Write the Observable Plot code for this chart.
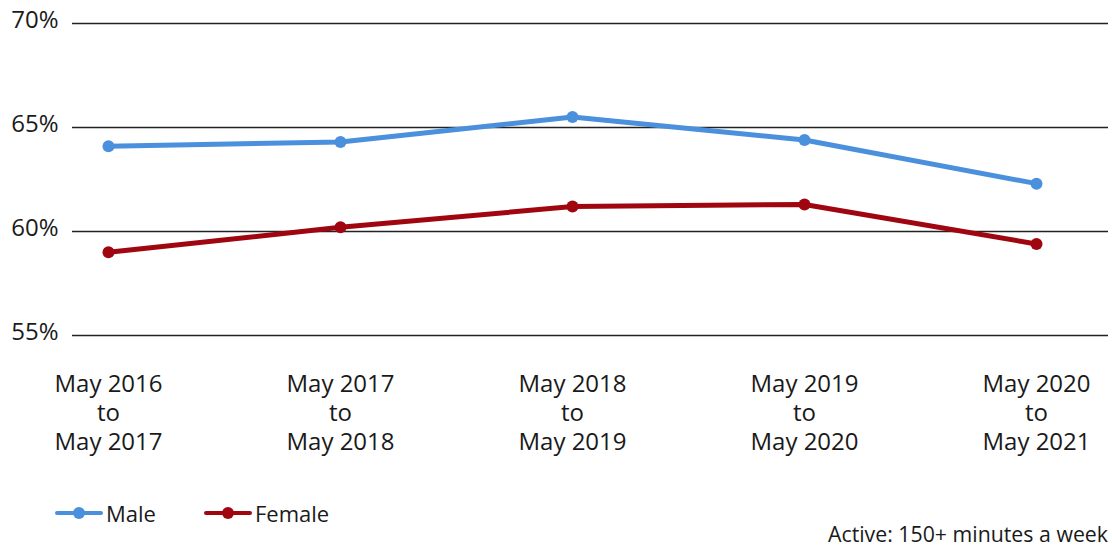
<!DOCTYPE html>
<html>
<head>
<meta charset="utf-8">
<script src="https://cdn.jsdelivr.net/npm/d3@7"></script>
<script src="https://cdn.jsdelivr.net/npm/@observablehq/plot@0.6"></script>
<style>
  body { margin: 0; background: #fff; font-family: "Open Sans", "Noto Sans", sans-serif; color: #1a1a1a; }
  #wrap { position: relative; width: 1112px; height: 547px; overflow: hidden; }
  #legend { position: absolute; left: 55px; top: 498px; display: flex; align-items: center; font-size: 22px; }
  .item { display: flex; align-items: center; margin-right: 48px; }
  .item svg { margin-right: 3px; }
  #caption { position: absolute; right: 4px; top: 522px; font-size: 21.3px; line-height: 1.15; }
</style>
</head>
<body>
<div id="wrap">
  <div id="chart"></div>
  <div id="legend"></div>
  <div id="caption">Active: 150+ minutes a week</div>
</div>
<script>
const periods = ["May 2016\nto\nMay 2017", "May 2017\nto\nMay 2018", "May 2018\nto\nMay 2019", "May 2019\nto\nMay 2020", "May 2020\nto\nMay 2021"];
const maleValues = [64.1, 64.3, 65.5, 64.4, 62.3];
const femaleValues = [59.0, 60.2, 61.2, 61.3, 59.4];
const seriesNames = ["Male", "Female"];
const seriesColors = ["#4a90dc", "#a0060f"];
const yTicks = [55, 60, 65, 70];

const data = [];
periods.forEach((p, i) => {
  data.push({period: p, series: "Male", value: maleValues[i]});
  data.push({period: p, series: "Female", value: femaleValues[i]});
});

const chart = Plot.plot({
  width: 1112,
  height: 470,
  marginTop: 23,
  marginBottom: 135,
  marginLeft: 72,
  marginRight: 4,
  style: {fontFamily: "'Open Sans', 'Noto Sans', sans-serif", fontSize: "24px", color: "#1a1a1a"},
  x: {type: "point", domain: periods, range: [107, 1037], padding: 0},
  y: {domain: [55, 70]},
  color: {domain: seriesNames, range: seriesColors},
  marks: [
    Plot.ruleY(yTicks, {stroke: "#222", strokeWidth: 1.3}),
    Plot.axisY({ticks: yTicks, tickSize: 0, tickPadding: 14, tickFormat: d => d + "%", dy: -3, fontSize: 24, label: null}),
    Plot.axisX({tickSize: 0, tickPadding: 36, lineHeight: 1.2, fontSize: 24, label: null}),
    Plot.line(data, {x: "period", y: "value", stroke: "series", strokeWidth: 5, strokeLinejoin: "round"}),
    Plot.dot(data, {x: "period", y: "value", fill: "series", r: 6})
  ]
});
document.getElementById("chart").appendChild(chart);

const legend = document.getElementById("legend");
seriesNames.forEach((name, i) => {
  const item = document.createElement("div");
  item.className = "item";
  item.innerHTML = `<svg width="48" height="14"><line x1="2" y1="7" x2="46" y2="7" stroke="${seriesColors[i]}" stroke-width="4" stroke-linecap="round"/><circle cx="24" cy="7" r="6" fill="${seriesColors[i]}"/></svg><span>${name}</span>`;
  legend.appendChild(item);
});
</script>
</body>
</html>
